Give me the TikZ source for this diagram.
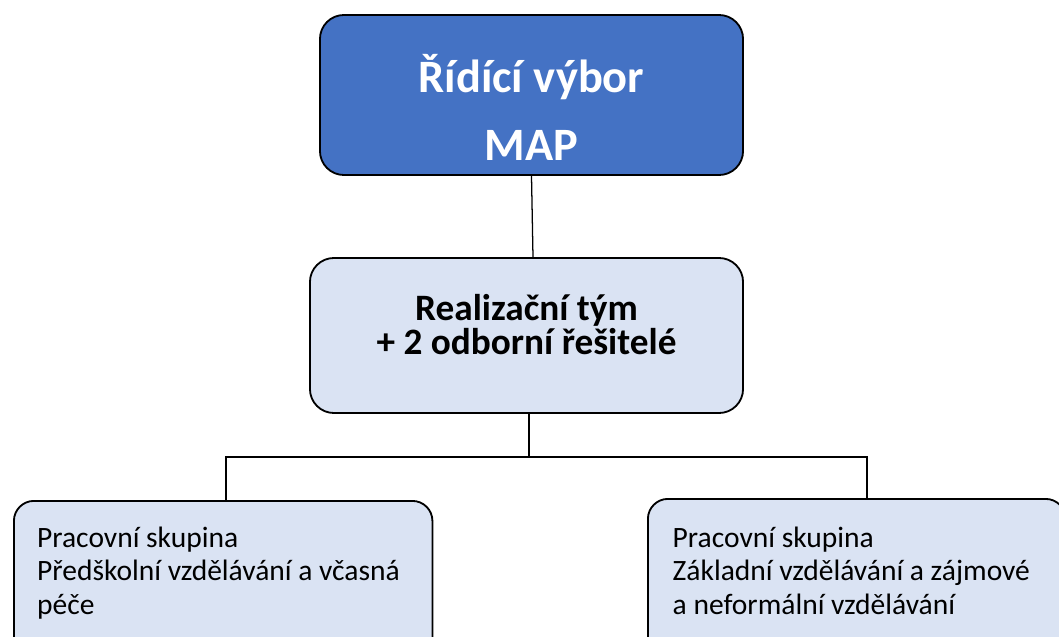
\documentclass[tikz,border=0pt]{standalone}
\usepackage{fontspec}
\setmainfont{Carlito}
\usepackage{tikz}
\usetikzlibrary{calc}
\usetikzlibrary{positioning}
\definecolor{mapblue}{HTML}{4472C4}
\definecolor{paleblue}{HTML}{DAE3F3}
\tikzset{
	box/.style={draw=black, line width=1.3pt, rounded corners=0.6cm},
	group/.style={box, fill=paleblue, rounded corners=0.5cm, font=\fontsize{21}{23.5}\selectfont, align=flush left, anchor=north west, inner ysep=0.3cm, text depth=2.5cm},
	link/.style={draw=black, line width=0.9pt}
}

\begin{document}
\begin{tikzpicture}[x=0.025cm, y=-0.025cm]
		\useasboundingbox (0,0) rectangle (1059,637);
		\clip (0,0) rectangle (1059,637);
		\node[box, fill=mapblue, text=white, font=\fontsize{33}{47.7}\selectfont\bfseries, align=center, minimum width=10.575cm, minimum height=4cm, text height=3.25cm, text depth=0cm] (vybor) at (531.5,95) {Řídící výbor\\MAP};
		\node[box, fill=paleblue, font=\fontsize{26.5}{24.2}\selectfont\bfseries, align=center, minimum width=10.825cm, minimum height=3.875cm, text height=0.95cm, text depth=0cm] (tym) at (526.5,335.5) {Realizační tým\\+ 2 odborní řešitelé};
		\node[group, text width=9.3cm, inner xsep=0.58cm, text height=0.875cm] (predskol) at (13,500) {Pracovní skupina\\Předškolní vzdělávání a včasná\\péče};
		\node[group, text width=9.2cm, inner xsep=0.62cm, text height=0.925cm] (zakl) at (647,498) {Pracovní skupina\\Základní vzdělávání a zájmové\\a neformální vzdělávání};

		\coordinate (split) at (529,457);
		\coordinate (dropl) at (226,457);
		\coordinate (dropr) at (867,457);
		\draw[link] (vybor.south) -- ($(vybor.south |- tym.north)+(1.5,0)$);
		\draw[link] (tym.south -| split) -- (split);
		\draw[link] (dropl |- predskol.north) -- (dropl) -- (dropr) -- (dropr |- zakl.north);
	\end{tikzpicture}
\end{document}
